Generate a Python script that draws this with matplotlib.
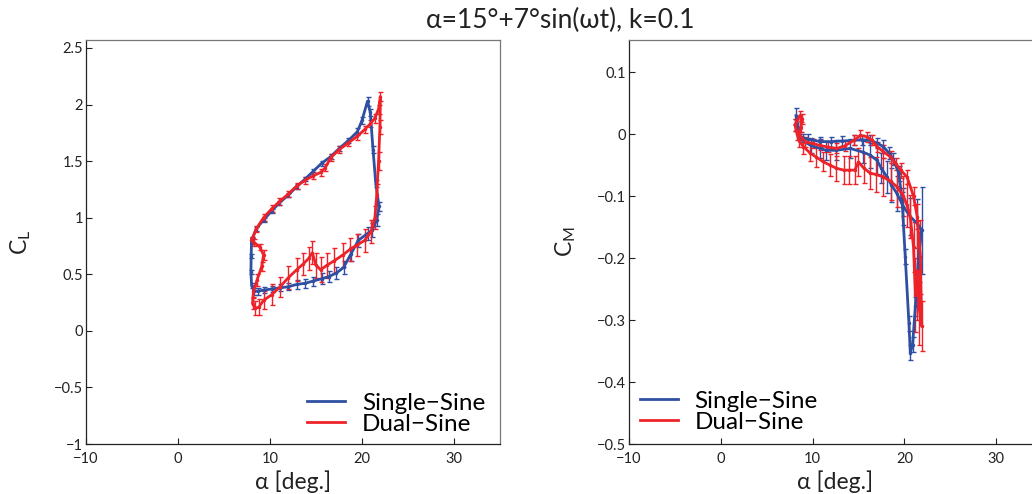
import matplotlib
matplotlib.use("Agg")
import matplotlib.pyplot as plt
from matplotlib.lines import Line2D

plt.rcParams['font.family'] = ['Lato', 'DejaVu Sans']
plt.rcParams['axes.unicode_minus'] = True

title = "\u03b1=15\u00b0+7\u00b0sin(\u03c9t), k=0.1"
series_names = ["Single\u2212Sine", "Dual\u2212Sine"]
x_ticks = [-10, 0, 10, 20, 30]
cl_ticks = [-1, -0.5, 0, 0.5, 1, 1.5, 2, 2.5]
cm_ticks = [-0.5, -0.4, -0.3, -0.2, -0.1, 0, 0.1]

# ---- Lift coefficient, single-sine ----
alpha_single_cl = [8.0, 8.5, 9.3, 10.2, 11.0, 12.0, 12.9, 13.8, 14.7, 15.6,
                   16.6, 17.5, 18.5, 19.5, 20.0, 20.6, 20.9, 21.2, 21.5, 21.85,
                   21.6, 21.1, 20.6, 19.6, 18.8, 18.0, 17.2, 16.4, 15.6, 14.7,
                   13.8, 12.9, 12.0, 11.1, 10.2, 9.3, 8.7, 8.3, 8.0, 7.93,
                   7.95, 8.0]
cl_single = [0.80, 0.90, 0.98, 1.06, 1.13, 1.20, 1.275, 1.34, 1.41, 1.48,
             1.54, 1.61, 1.68, 1.76, 1.86, 2.03, 1.93, 1.60, 1.30, 1.10,
             0.98, 0.89, 0.86, 0.80, 0.68, 0.56, 0.51, 0.48, 0.46, 0.44,
             0.42, 0.41, 0.39, 0.38, 0.37, 0.36, 0.35, 0.35, 0.40, 0.52,
             0.66, 0.80]
cl_single_err = [0.02, 0.02, 0.02, 0.02, 0.02, 0.02, 0.02, 0.02, 0.02, 0.02,
                 0.02, 0.02, 0.02, 0.03, 0.03, 0.04, 0.03, 0.03, 0.03, 0.04,
                 0.05, 0.06, 0.06, 0.06, 0.06, 0.06, 0.05, 0.05, 0.05, 0.04,
                 0.04, 0.04, 0.03, 0.03, 0.03, 0.03, 0.03, 0.03, 0.02, 0.02,
                 0.02, 0.02]

# ---- Lift coefficient, dual-sine ----
alpha_dual_cl = [8.0, 8.5, 9.3, 10.2, 11.0, 12.0, 12.9, 13.8, 14.7, 15.5,
                 16.0, 16.6, 17.5, 18.5, 19.5, 20.3, 20.9, 21.4, 21.8, 22.0,
                 21.95, 21.8, 21.6, 21.4, 21.0, 20.3, 19.5, 18.7, 17.9, 17.0,
                 16.2, 15.5, 15.0, 14.6, 14.2, 13.6, 12.9, 12.0, 11.1, 10.2,
                 9.3, 8.8, 8.4, 8.1, 8.2, 8.6, 9.1, 9.3, 8.9, 8.3, 8.0]
cl_dual = [0.80, 0.90, 1.00, 1.08, 1.14, 1.21, 1.28, 1.33, 1.37, 1.40,
           1.44, 1.53, 1.60, 1.66, 1.72, 1.78, 1.83, 1.88, 1.96, 2.07,
           1.80, 1.50, 1.20, 1.00, 0.88, 0.80, 0.76, 0.72, 0.67, 0.62,
           0.58, 0.54, 0.58, 0.69, 0.64, 0.59, 0.54, 0.47, 0.39, 0.32,
           0.27, 0.21, 0.20, 0.24, 0.35, 0.45, 0.57, 0.67, 0.74, 0.78, 0.80]
cl_dual_err = [0.03, 0.03, 0.03, 0.03, 0.03, 0.03, 0.03, 0.03, 0.03, 0.03,
               0.03, 0.03, 0.03, 0.03, 0.03, 0.03, 0.03, 0.04, 0.04, 0.04,
               0.06, 0.08, 0.10, 0.10, 0.10, 0.10, 0.10, 0.10, 0.11, 0.11,
               0.11, 0.11, 0.11, 0.10, 0.10, 0.10, 0.10, 0.10, 0.09, 0.09,
               0.08, 0.07, 0.06, 0.05, 0.05, 0.05, 0.04, 0.04, 0.03, 0.03, 0.03]

# ---- Moment coefficient, single-sine ----
alpha_single_cm = [8.2, 8.6, 9.5, 10.8, 12.0, 13.2, 14.5, 15.4, 16.3, 17.0,
                   17.7, 18.3, 18.8, 19.4, 19.75, 20.1, 20.5, 20.65, 20.9, 21.2,
                   21.55, 21.9, 21.4, 20.65, 19.9, 19.2, 18.6, 18.1, 17.5, 17.0,
                   16.3, 15.5, 14.1, 12.6, 11.5, 10.8, 9.8, 9.0, 8.5, 8.2]
cm_single = [0.030, -0.004, -0.008, -0.012, -0.012, -0.011, -0.010, -0.009, -0.010, -0.014,
             -0.020, -0.030, -0.040, -0.063, -0.106, -0.198, -0.305, -0.353, -0.340, -0.278,
             -0.198, -0.155, -0.144, -0.133, -0.117, -0.096, -0.082, -0.069, -0.055, -0.042,
             -0.034, -0.029, -0.023, -0.026, -0.026, -0.023, -0.018, -0.010, 0.000, 0.015]
cm_single_err = [0.012, 0.008, 0.008, 0.008, 0.008, 0.008, 0.008, 0.008, 0.008, 0.008,
                 0.010, 0.010, 0.010, 0.012, 0.012, 0.012, 0.012, 0.012, 0.012, 0.015,
                 0.040, 0.070, 0.040, 0.030, 0.030, 0.028, 0.028, 0.026, 0.024, 0.022,
                 0.020, 0.018, 0.016, 0.016, 0.015, 0.015, 0.012, 0.010, 0.010, 0.010]

# ---- Moment coefficient, dual-sine ----
alpha_dual_cm = [8.1, 8.6, 8.9, 8.7, 8.5, 9.2, 10.0, 10.8, 11.7, 12.6,
                 13.5, 14.5, 15.2, 15.9, 16.5, 17.0, 17.7, 18.5, 19.1, 19.6,
                 20.3, 21.0, 21.4, 21.75, 21.9, 21.6, 21.4, 21.2, 21.0, 20.65,
                 20.3, 19.9, 19.2, 18.5, 17.7, 16.9, 16.3, 15.6, 15.0, 14.6,
                 14.0, 13.4, 12.6, 11.9, 11.1, 10.4, 9.7, 9.0, 8.5, 8.3, 8.1]
cm_dual = [0.015, 0.030, 0.025, 0.012, 0.000, -0.012, -0.015, -0.018, -0.021, -0.023,
           -0.019, -0.010, -0.002, -0.004, -0.010, -0.020, -0.028, -0.037, -0.048, -0.058,
           -0.069, -0.100, -0.133, -0.198, -0.310, -0.280, -0.220, -0.260, -0.182, -0.133,
           -0.115, -0.100, -0.085, -0.076, -0.069, -0.065, -0.063, -0.055, -0.045, -0.058,
           -0.058, -0.058, -0.055, -0.050, -0.044, -0.037, -0.030, -0.020, -0.010, 0.001, 0.015]
cm_dual_err = [0.010, 0.008, 0.008, 0.008, 0.008, 0.008, 0.008, 0.008, 0.008, 0.008,
               0.008, 0.008, 0.008, 0.008, 0.008, 0.008, 0.010, 0.010, 0.010, 0.012,
               0.012, 0.015, 0.020, 0.060, 0.040, 0.060, 0.080, 0.060, 0.040, 0.035,
               0.035, 0.032, 0.032, 0.030, 0.030, 0.028, 0.026, 0.024, 0.022, 0.022,
               0.022, 0.022, 0.020, 0.018, 0.016, 0.016, 0.014, 0.012, 0.010, 0.010, 0.010]

BLUE = "#2f4fa3"
RED = "#ee2229"
INK = "#222222"

W, H = 1032, 494
fig = plt.figure(figsize=(W / 100, H / 100), dpi=100)

ax1 = fig.add_axes([86 / W, 50 / H, (500 - 86) / W, 404 / H])
ax2 = fig.add_axes([629 / W, 50 / H, (1042 - 629) / W, 404 / H])


def draw(ax, xs, ys, es, color):
    ax.errorbar(xs, ys, yerr=es, color=color, lw=2.0, ecolor=color,
                elinewidth=1.0, capsize=1.8, capthick=1.0,
                marker='.', markersize=3, zorder=3)


draw(ax1, alpha_single_cl, cl_single, cl_single_err, BLUE)
draw(ax1, alpha_dual_cl, cl_dual, cl_dual_err, RED)
draw(ax2, alpha_single_cm, cm_single, cm_single_err, BLUE)
draw(ax2, alpha_dual_cm, cm_dual, cm_dual_err, RED)


def fmt(v):
    return ("%g" % v).replace("-", "\u2212")


for ax, yt, ylim in ((ax1, cl_ticks, (-1, 2.57)), (ax2, cm_ticks, (-0.5, 0.152))):
    ax.set_xlim(-10, 35)
    ax.set_ylim(*ylim)
    ax.set_xticks(x_ticks)
    ax.set_yticks(yt)
    ax.set_yticklabels([fmt(v) for v in yt])
    ax.set_xticklabels([fmt(v) for v in x_ticks])
    ax.tick_params(direction='in', length=4, width=0.8, labelsize=10.5,
                   colors=INK, top=False, right=False)
    ax.tick_params(axis='x', pad=6)
    ax.tick_params(axis='y', pad=2)
    for s in ('left', 'bottom'):
        ax.spines[s].set_color(INK)
        ax.spines[s].set_linewidth(0.9)
    for s in ('top', 'right'):
        ax.spines[s].set_color('#777777')
        ax.spines[s].set_linewidth(0.9)
    ax.set_xlabel("\u03b1 [deg.]", fontsize=16.5, labelpad=3, color=INK)

ax1.set_ylabel("C$_\\mathregular{L}$", fontsize=16.5, labelpad=15, color=INK)
ax2.set_ylabel("C$_\\mathregular{M}$", fontsize=16.5, labelpad=14, color=INK)

handles = [Line2D([], [], color=BLUE, lw=2), Line2D([], [], color=RED, lw=2)]
leg_kw = dict(frameon=False, fontsize=17.5, handlelength=1.55, handletextpad=0.7,
              labelspacing=0.0, borderaxespad=0.0, borderpad=0.0)
ax1.legend(handles, series_names, loc='lower right',
           bbox_to_anchor=((485 - 86) / 414, 9 / 404), **leg_kw)
ax2.legend(handles, series_names, loc='lower left',
           bbox_to_anchor=(11 / 413, 11 / 404), **leg_kw)

fig.text(560 / W, 1 - 20 / H, title, fontsize=19, ha='center', va='center',
         color=INK)

fig.savefig("out.png", dpi=100)
